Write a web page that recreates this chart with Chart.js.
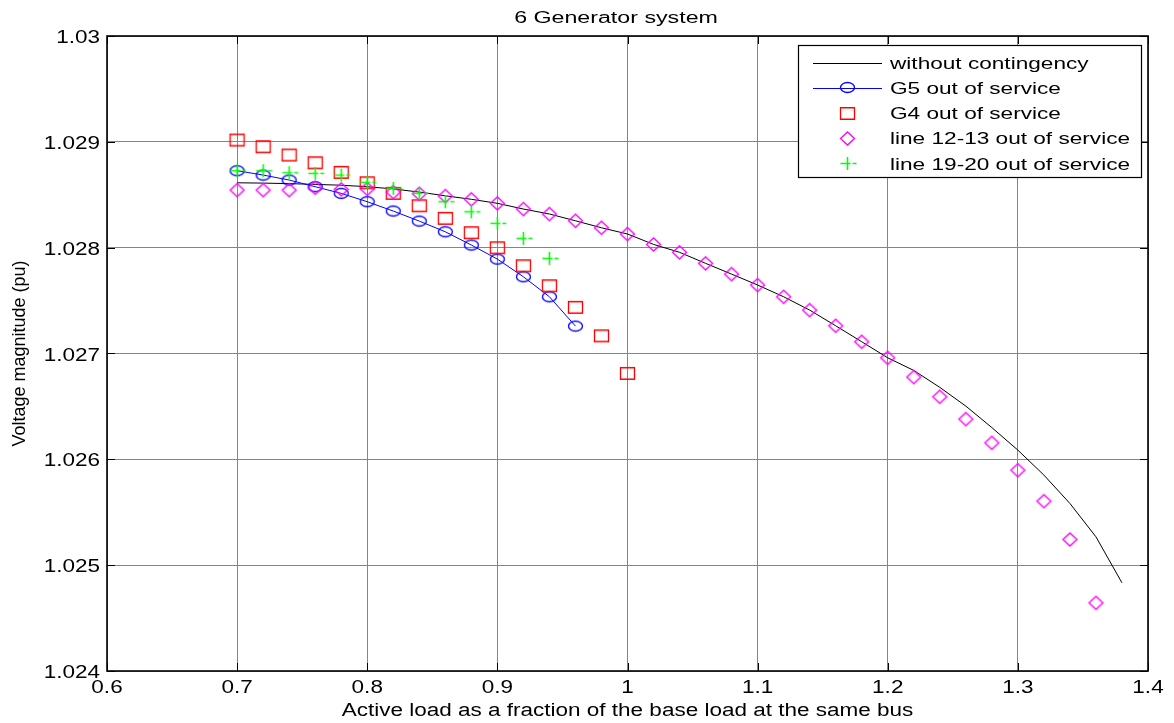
<!DOCTYPE html>
<html>
<head>
<meta charset="utf-8">
<script src="https://cdn.jsdelivr.net/npm/chart.js@4.4.1/dist/chart.umd.min.js"></script>
<style>
html,body{margin:0;padding:0;background:#fff;}
#wrap{width:1174px;height:723px;position:relative;}
</style>
</head>
<body>
<div id="wrap"><canvas id="c" width="1174" height="723"></canvas></div>
<script>
// ---------------- data ----------------
const titleText = '6 Generator system';
const xAxisLabel = 'Active load as a fraction of the base load at the same bus';
const yAxisLabel = 'Voltage magnitude (pu)';
const xTickLabels = ['0.6','0.7','0.8','0.9','1','1.1','1.2','1.3','1.4'];
const yTickLabels = ['1.024','1.025','1.026','1.027','1.028','1.029','1.03'];
const seriesNames = ['without contingency','G5 out of service','G4 out of service','line 12-13 out of service','line 19-20 out of service'];

const loadBase = [0.70,0.72,0.74,0.76,0.78,0.80,0.82,0.84,0.86,0.88,0.90,0.92,0.94,0.96,0.98,1.00,1.02,1.04,1.06,1.08,1.10,1.12,1.14,1.16,1.18,1.20,1.22,1.24,1.26,1.28,1.30,1.32,1.34,1.36,1.38];
const vBase = [1.028613,1.028610,1.028605,1.028598,1.028590,1.028576,1.028555,1.028525,1.028490,1.028457,1.028419,1.028365,1.028318,1.028254,1.028188,1.028129,1.028031,1.027956,1.027852,1.027750,1.027647,1.027536,1.027410,1.027262,1.027111,1.026959,1.026840,1.026680,1.026503,1.026300,1.026087,1.025851,1.025583,1.025268,1.024833];

const loadG5 = [0.70,0.72,0.74,0.76,0.78,0.80,0.82,0.84,0.86,0.88,0.90,0.92,0.94,0.96];
const vG5 = [1.028727,1.028686,1.028639,1.028576,1.028513,1.028434,1.028346,1.028251,1.028150,1.028025,1.027892,1.027725,1.027536,1.027259];

const loadG4 = [0.70,0.72,0.74,0.76,0.78,0.80,0.82,0.84,0.86,0.88,0.90,0.92,0.94,0.96,0.98,1.00];
const vG4 = [1.029017,1.028954,1.028875,1.028802,1.028712,1.028613,1.028513,1.028396,1.028277,1.028141,1.027999,1.027829,1.027640,1.027436,1.027167,1.026812];

const loadL1213 = [0.70,0.72,0.74,0.76,0.78,0.80,0.82,0.84,0.86,0.88,0.90,0.92,0.94,0.96,0.98,1.00,1.02,1.04,1.06,1.08,1.10,1.12,1.14,1.16,1.18,1.20,1.22,1.24,1.26,1.28,1.30,1.32,1.34,1.36];
const vL1213 = [1.028544,1.028544,1.028544,1.028566,1.028551,1.028555,1.028525,1.028510,1.028488,1.028457,1.028419,1.028365,1.028318,1.028254,1.028188,1.028129,1.028031,1.027956,1.027852,1.027750,1.027647,1.027536,1.027410,1.027262,1.027111,1.026959,1.026777,1.026591,1.026380,1.026156,1.025898,1.025605,1.025243,1.024644];

const loadL1920 = [0.70,0.72,0.74,0.76,0.78,0.80,0.82,0.84,0.86,0.88,0.90,0.92,0.94];
const vL1920 = [1.028727,1.028727,1.028708,1.028702,1.028686,1.028617,1.028561,1.028513,1.028434,1.028339,1.028230,1.028088,1.027899];

// ---------------- helpers ----------------
const FONT = '"Liberation Sans", Arial, Helvetica, sans-serif';
function pts(xs, ys){ return xs.map((x,i)=>({x:x, y:ys[i]})); }

function makeMarker(kind, color, lw){
  const c = document.createElement('canvas');
  c.width = 21; c.height = 21;
  const g = c.getContext('2d');
  const m = 10.5;
  g.strokeStyle = color; g.lineWidth = lw;
  g.beginPath();
  if (kind === 'circle') {
    g.ellipse(m, m, 7, 5, 0, 0, Math.PI*2);
  } else if (kind === 'square') {
    g.rect(m-7, m-5.75, 14, 11.5);
  } else if (kind === 'diamond') {
    g.moveTo(m-7, m); g.lineTo(m, m-6.5); g.lineTo(m+7, m); g.lineTo(m, m+6.5); g.closePath();
  } else if (kind === 'plus') {
    g.moveTo(m, m-6.5); g.lineTo(m, m+6.5);
    g.moveTo(m-7, m); g.lineTo(m+3, m);
    g.moveTo(m+5, m); g.lineTo(m+9, m);
  }
  g.stroke();
  return c;
}
const mkCircle = makeMarker('circle', '#0000ff', 1.3);
const mkSquare = makeMarker('square', '#ff0000', 1.3);
const mkDiamond = makeMarker('diamond', '#ff00ff', 1.3);
const mkPlus = makeMarker('plus', '#00ff00', 1.6);

function stretchText(ctx, txt, x, y, size, sx, align){
  ctx.save();
  ctx.font = size + 'px ' + FONT;
  ctx.fillStyle = '#000';
  ctx.textBaseline = 'alphabetic';
  ctx.textAlign = 'left';
  const w = ctx.measureText(txt).width * sx;
  let left = x;
  if (align === 'center') left = x - w/2;
  else if (align === 'right') left = x - w;
  ctx.translate(left, y);
  ctx.scale(sx, 1);
  ctx.fillText(txt, 0, 0);
  ctx.restore();
}

const decor = {
  id: 'decor',
  afterDraw(chart){
    const ctx = chart.ctx;
    const a = chart.chartArea;
    const xs = chart.scales.x, ys = chart.scales.y;
    ctx.save();
    // inner ticks
    ctx.strokeStyle = '#000'; ctx.lineWidth = 1;
    ctx.beginPath();
    xs.ticks.forEach(t=>{
      const px = Math.round(xs.getPixelForValue(t.value)) + 0.5;
      ctx.moveTo(px, a.bottom); ctx.lineTo(px, a.bottom - 8);
      ctx.moveTo(px, a.top); ctx.lineTo(px, a.top + 8);
    });
    ys.ticks.forEach(t=>{
      const py = Math.round(ys.getPixelForValue(t.value)) + 0.5;
      ctx.moveTo(a.left, py); ctx.lineTo(a.left + 8, py);
      ctx.moveTo(a.right, py); ctx.lineTo(a.right - 8, py);
    });
    ctx.stroke();
    // box
    ctx.lineWidth = 1.6;
    ctx.strokeRect(a.left, a.top, a.right - a.left, a.bottom - a.top);
    ctx.restore();

    // tick labels
    xs.ticks.forEach((t,i)=>{
      const px = xs.getPixelForValue(t.value);
      stretchText(ctx, xTickLabels[i], px, a.bottom + 22, 18, 1.25, 'center');
    });
    ys.ticks.forEach((t,i)=>{
      const py = ys.getPixelForValue(t.value);
      stretchText(ctx, yTickLabels[i], a.left - 7, py + 7, 18, 1.25, 'right');
    });

    // title
    stretchText(ctx, titleText, 616, 23, 16, 1.45, 'center');
    // x label
    stretchText(ctx, xAxisLabel, (a.left + a.right)/2, 716, 18, 1.25, 'center');
    // y label
    ctx.save();
    ctx.translate(25, (a.top + a.bottom)/2);
    ctx.rotate(-Math.PI/2);
    ctx.font = '18px ' + FONT;
    ctx.fillStyle = '#000';
    ctx.textAlign = 'center';
    ctx.textBaseline = 'alphabetic';
    ctx.fillText(yAxisLabel, 0, 0);
    ctx.restore();

    // legend
    const L = {x: 798, y: 45, w: 343, h: 132};
    ctx.save();
    ctx.fillStyle = '#fff';
    ctx.fillRect(L.x, L.y, L.w, L.h);
    ctx.strokeStyle = '#000'; ctx.lineWidth = 1.2;
    ctx.strokeRect(L.x + 0.5, L.y + 0.5, L.w, L.h);
    const rowY = [62.7, 87.9, 113.1, 138.3, 163.5];
    const mx = 847.5;
    ctx.strokeStyle = '#000'; ctx.lineWidth = 1;
    ctx.beginPath(); ctx.moveTo(813, Math.round(rowY[0])+0.5); ctx.lineTo(882, Math.round(rowY[0])+0.5); ctx.stroke();
    ctx.strokeStyle = '#0000ff';
    ctx.beginPath(); ctx.moveTo(813, Math.round(rowY[1])+0.5); ctx.lineTo(882, Math.round(rowY[1])+0.5); ctx.stroke();
    const mk = [null, mkCircle, mkSquare, mkDiamond, mkPlus];
    for (let i = 1; i < 5; i++) {
      ctx.drawImage(mk[i], Math.round(mx - 10.5), Math.round(rowY[i] - 10.5));
    }
    ctx.restore();
    seriesNames.forEach((s,i)=>{
      stretchText(ctx, s, 890, rowY[i] + 6.1, 17, 1.33, 'left');
    });
  }
};

const gridOpts = {color: '#858585', lineWidth: 1, drawTicks: false};

new Chart(document.getElementById('c'), {
  type: 'line',
  data: {
    datasets: [
      {label: seriesNames[0], data: pts(loadBase, vBase), borderColor: '#000', borderWidth: 1, pointRadius: 0, showLine: true, fill: false, tension: 0, order: 5},
      {label: seriesNames[1], data: pts(loadG5, vG5), borderColor: '#0000ff', borderWidth: 1, pointStyle: mkCircle, pointRadius: 5, showLine: true, fill: false, tension: 0, order: 4},
      {label: seriesNames[2], data: pts(loadG4, vG4), borderColor: '#ff0000', pointStyle: mkSquare, pointRadius: 5, showLine: false, order: 3},
      {label: seriesNames[3], data: pts(loadL1213, vL1213), borderColor: '#ff00ff', pointStyle: mkDiamond, pointRadius: 5, showLine: false, order: 2},
      {label: seriesNames[4], data: pts(loadL1920, vL1920), borderColor: '#00ff00', pointStyle: mkPlus, pointRadius: 5, showLine: false, order: 1}
    ]
  },
  options: {
    responsive: false,
    animation: false,
    devicePixelRatio: 1,
    layout: {padding: {left: 0, right: 26, top: 36, bottom: 0}},
    plugins: {legend: {display: false}, title: {display: false}, tooltip: {enabled: false}},
    scales: {
      x: {
        type: 'linear', min: 0.6, max: 1.4,
        ticks: {stepSize: 0.1, display: false},
        grid: gridOpts,
        border: {display: false},
        afterFit(s){ s.height = 52; }
      },
      y: {
        type: 'linear', min: 1.024, max: 1.03,
        ticks: {stepSize: 0.001, display: false},
        grid: gridOpts,
        border: {display: false},
        afterFit(s){ s.width = 107; }
      }
    }
  },
  plugins: [decor]
});
</script>
</body>
</html>
